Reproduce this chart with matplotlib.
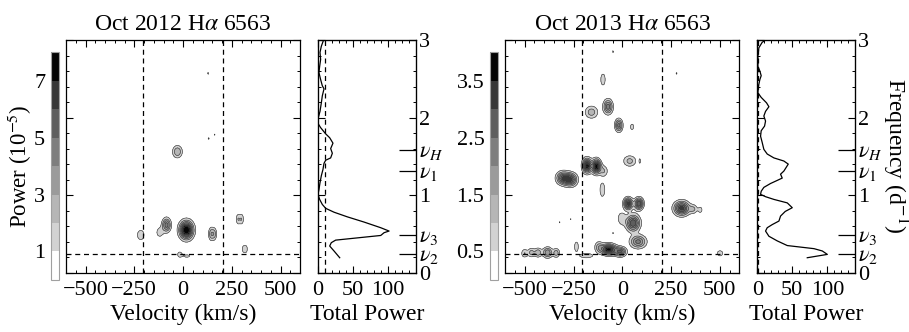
from __future__ import annotations
import numpy as np
import matplotlib
matplotlib.use("Agg")
import matplotlib.pyplot as plt
from matplotlib.ticker import MultipleLocator

plt.rcParams["font.family"] = ["Liberation Serif", "DejaVu Serif"]
plt.rcParams["mathtext.fontset"] = "stix"

# Oct 2012 blobs in the velocity/frequency power map (power in 1e-5)
vel12 = [-29, 17, -85, -120, 143, 160, -217, 282, 300, 310, 323, -17, 20, 131, 162, 128]
frq12 = [1.56, 0.55, 0.615, 0.52, 0.50, 0.50, 0.486, 0.69, 0.69, 0.305, 0.305, 0.235, 0.215, 1.73, 1.78, 2.57]
amp12 = [3.0, 8.6, 4.5, 1.6, 2.6, 2.4, 2.0, 1.9, 1.9, 1.6, 1.6, 1.7, 1.3, 1.3, 1.2, 1.3]
sv12 = [17, 23, 15, 14, 9, 9, 14, 8, 8, 6, 6, 10, 18, 3, 3, 3]
sf12 = [0.054, 0.075, 0.06, 0.05, 0.058, 0.055, 0.05, 0.05, 0.05, 0.04, 0.04, 0.03, 0.02, 0.015, 0.012, 0.015]

# Oct 2013 blobs
vel13 = [-501, -466, -432, -383, -338, -235, -185, -70, -10, -120,
         81, 55, -4, 30, 85, 304, 365, 400, 501, 38, 90, -18, 50,
         -73, -158, -99, -181, -133, -95, -305, -265, -102,
         -47, 278, -321, -265, -47]
frq13 = [0.25, 0.26, 0.26, 0.26, 0.255, 0.335, 0.22, 0.30, 0.27, 0.33,
         0.40, 0.64, 0.70, 0.89, 0.89, 0.83, 0.82, 0.81, 0.25, 1.44, 1.44, 1.90, 1.88,
         2.14, 2.07, 2.49, 1.38, 1.37, 1.31, 1.22, 1.20, 1.07,
         2.85, 2.57, 0.65, 0.69, 0.51]
amp13 = [1.0, 1.2, 1.4, 2.0, 1.3, 1.0, 0.9, 3.8, 2.5, 1.2,
         2.2, 3.0, 0.9, 3.2, 3.0, 3.2, 1.0, 0.8, 0.9, 1.2, 0.65, 2.2, 0.8,
         2.3, 1.3, 0.9, 3.7, 3.8, 1.0, 2.5, 2.8, 0.9,
         0.65, 0.65, 0.6, 0.6, 0.6]
sv13 = [12, 12, 13, 16, 12, 8, 30, 25, 20, 15,
        27, 23, 15, 15, 15, 26, 15, 8, 12, 23, 4, 13, 8,
        16, 23, 10, 15, 15, 15, 22, 22, 11,
        3, 3, 3, 3, 3]
sf13 = [0.04, 0.04, 0.04, 0.045, 0.04, 0.05, 0.025, 0.045, 0.04, 0.05,
        0.055, 0.068, 0.06, 0.05, 0.05, 0.06, 0.04, 0.03, 0.03, 0.05, 0.03, 0.055, 0.035,
        0.062, 0.056, 0.064, 0.06, 0.06, 0.05, 0.055, 0.055, 0.078,
        0.015, 0.015, 0.012, 0.012, 0.015]

# total power profiles (power, frequency)
tp12 = [31, 22.9, 16.7, 19, 25.2, 89.5, 94.3, 101.4, 89.5, 65.7, 41.9, 22.9, 11, 6.2, 2.4, 0,
        1.4, 2.9, 4.8, 7.1, 8.6, 11, 18.1, 20.5, 18.1, 21.4, 16.7, 11, 3.8, 0, 0.5,
        2.9, 4.8, 6.2, 8.6, 6.2, 3.8, 1.4, 2.4, 3.8, 2.9, 4.8, 7.6]
tf12 = [0.193, 0.28, 0.344, 0.387, 0.42, 0.48, 0.516, 0.537, 0.58, 0.653, 0.72, 0.78, 0.83, 0.88, 0.945, 1.01,
        1.07, 1.16, 1.25, 1.33, 1.41, 1.45, 1.48, 1.54, 1.60, 1.67, 1.74, 1.79, 1.87, 1.925, 2.0,
        2.08, 2.19, 2.28, 2.37, 2.41, 2.49, 2.58, 2.66, 2.75, 2.84, 2.92, 2.99]
tp13 = [71.4, 100, 92.9, 81, 42.9, 28.6, 16.7, 11.9, 14.3, 21.4, 31, 33.3, 40, 50, 42.9, 23.8, 11.9, 4.8,
        5.7, 9.5, 19, 28.6, 35.7, 33.3, 38, 44.3, 38, 23.8, 14.3, 9.5, 7.1, 4.8, 5.7, 10.5,
        11.9, 9.5, 11.9, 16.7, 13.3, 5.7, 1, 1.9, 3.8, 5.7, 3.8, 1, 1, 2.4, 7.1, 11.9]
tf13 = [0.193, 0.236, 0.28, 0.31, 0.35, 0.41, 0.47, 0.537, 0.58, 0.62, 0.666, 0.73, 0.79, 0.838, 0.90, 0.945, 0.98, 1.01,
        1.05, 1.10, 1.15, 1.19, 1.22, 1.27, 1.31, 1.40, 1.44, 1.48, 1.53, 1.59, 1.68, 1.76, 1.83, 1.89,
        1.955, 2.02, 2.08, 2.14, 2.19, 2.26, 2.32, 2.41, 2.49, 2.54, 2.60, 2.66, 2.79, 2.90, 2.97, 3.0]
thr12 = 9.5
thr13 = 1.0

nu_vals = [1.58, 1.315, 0.486, 0.24]
nu_labels = [r"$\nu_H$", r"$\nu_1$", r"$\nu_3$", r"$\nu_2$"]
vsini = [-205, 205]

GRAYS = ["#ffffff", "#d2d2d2", "#b6b6b6", "#9b9b9b", "#7e7e7e", "#5e5e5e", "#383838", "#050505"]
FS = 16


def power_map(v, f, a, sv, sf):
    V, F = np.meshgrid(np.arange(-600, 601, 3.0), np.arange(0, 3.0001, 0.004))
    Z = np.zeros_like(V)
    for v0, f0, a0, s1, s2 in zip(v, f, a, sv, sf):
        Z += a0 * np.exp(-0.5 * ((V - v0) / s1) ** 2 - 0.5 * ((F - f0) / s2) ** 2)
    return V, F, Z


def style_axes(ax):
    ax.tick_params(which="both", direction="in", top=True, right=True, labelsize=FS)
    ax.tick_params(which="major", length=5, width=0.8)
    ax.tick_params(which="minor", length=2.5, width=0.7)
    for s in ax.spines.values():
        s.set_linewidth(0.9)


def draw_panel(fig, x0, title, blobs, vmax, step, cb_ticks, tp, tf, thr):
    cax = fig.add_axes([x0, 0.157, 0.009, 0.685])
    ax = fig.add_axes([x0 + 0.0168, 0.1786, 0.2576, 0.7009])
    axs = fig.add_axes([x0 + 0.294, 0.1786, 0.108, 0.7009])

    V, F, Z = power_map(*blobs)
    levels = np.arange(0, vmax + step / 2, step)
    Z = np.clip(Z, 0, vmax - 1e-3)
    cf = ax.contourf(V, F, Z, levels=levels, colors=GRAYS)
    ax.contour(V, F, Z, levels=levels[1:-1], colors="#3a3a3a", linewidths=0.45)
    for v in vsini:
        ax.axvline(v, color="k", ls=(0, (4, 3)), lw=0.9)
    ax.axhline(nu_vals[-1], color="k", ls=(0, (4, 3)), lw=0.9)
    ax.set_xlim(-600, 600)
    ax.set_ylim(0, 3)
    ax.set_xticks([-500, -250, 0, 250, 500])
    ax.xaxis.set_minor_locator(MultipleLocator(50))
    ax.set_yticks([0, 1, 2, 3])
    ax.yaxis.set_minor_locator(MultipleLocator(0.2))
    ax.set_yticklabels([])
    style_axes(ax)
    ax.tick_params(axis="x", pad=6)
    ax.set_xlabel("Velocity (km/s)", fontsize=FS + 1, labelpad=3)
    ax.set_title(title, fontsize=FS + 1, pad=7)

    cb = fig.colorbar(cf, cax=cax, ticks=cb_ticks)
    cax.yaxis.set_ticks_position("left")
    cax.tick_params(length=0, labelsize=FS, pad=4)
    cb.outline.set_edgecolor("#a0a0a0")
    cb.outline.set_linewidth(0.8)

    axs.plot(tp, tf, color="k", lw=0.9)
    axs.axvline(thr, color="k", ls=(0, (4, 3)), lw=0.9)
    axs.set_xlim(0, 140)
    axs.set_ylim(0, 3)
    axs.set_xticks([0, 50, 100])
    axs.xaxis.set_minor_locator(MultipleLocator(10))
    axs.set_yticks([0, 1, 2, 3])
    axs.yaxis.set_minor_locator(MultipleLocator(0.2))
    axs.set_xlabel("Total Power", fontsize=FS + 1, labelpad=3)

    axn = axs.twinx()
    axn.set_ylim(0, 3)
    axn.set_yticks(nu_vals)
    axn.set_yticklabels(nu_labels)
    axn.tick_params(axis="y", direction="in", length=12, width=0.9, pad=2, labelsize=FS)

    style_axes(axs)
    axs.yaxis.set_ticks_position("both")
    axs.tick_params(axis="y", which="both", left=True, right=True,
                    labelleft=False, labelright=True, pad=2)
    axs.tick_params(axis="x", pad=6)
    return ax, axs


def main():
    fig = plt.figure(figsize=(9.09, 3.32), dpi=100)
    draw_panel(fig, 0.0558, r"Oct 2012 H$\alpha$ 6563", (vel12, frq12, amp12, sv12, sf12),
               8, 1, [1, 3, 5, 7], tp12, tf12, thr12)
    draw_panel(fig, 0.539, r"Oct 2013 H$\alpha$ 6563", (vel13, frq13, amp13, sv13, sf13),
               4, 0.5, [0.5, 1.5, 2.5, 3.5], tp13, tf13, thr13)
    fig.text(0.0215, 0.50, r"Power (10$^{-5}$)", rotation=90, ha="center", va="center",
             fontsize=FS + 0.5)
    fig.text(0.985, 0.53, r"Frequency (d$^{-1}$)", rotation=270, ha="center", va="center",
             fontsize=FS + 1)
    fig.savefig("out.png", dpi=100)
    plt.close(fig)


if __name__ == "__main__":
    main()
